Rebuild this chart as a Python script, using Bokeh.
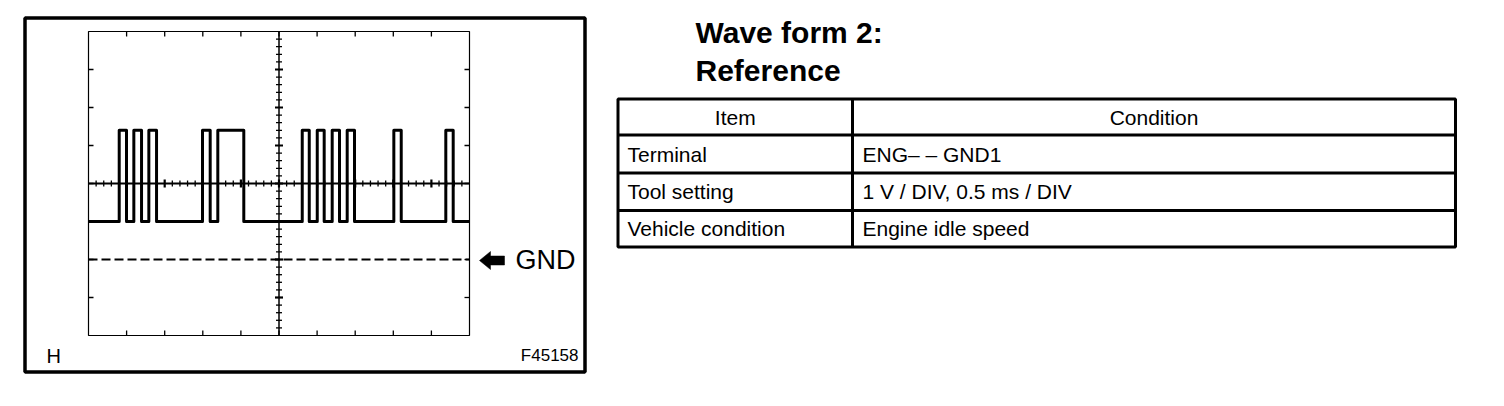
from bokeh.plotting import figure
from bokeh.layouts import row
from bokeh.models import Range1d
from bokeh.core.properties import value
from bokeh.embed import file_html
from bokeh.resources import INLINE

# ---------------- data ----------------
pulse_rise_ms = [0.403, 0.595, 0.792, 1.496, 1.697, 2.805, 3.002, 3.198, 3.395, 4.007, 4.689]
pulse_fall_ms = [0.499, 0.696, 0.893, 1.597, 2.038, 2.897, 3.093, 3.294, 3.491, 4.104, 4.786]
low_level_v = 1.0
high_level_v = 3.4
gnd_v = 0.0
screen_t = [0.0, 5.0]      # 10 div x 0.5 ms/div
screen_v = [-2.0, 6.0]     # 8 div x 1 V/div
ms_per_div = 0.5
v_per_div = 1.0

title_lines = ["Wave form 2:", "Reference"]
table_header = ["Item", "Condition"]
table_items = ["Terminal", "Tool setting", "Vehicle condition"]
table_conditions = ["ENG\u2013 \u2013 GND1", "1 V / DIV, 0.5 ms / DIV", "Engine idle speed"]
gnd_label = "GND"
corner_labels = ["H", "F45158"]

FONT = "Liberation Sans"

# ---------------- layout (page pixels) ----------------
M = 0
LW, H = 600, 400
RW = 900
GL, GR, GT, GB = 88.0, 469.0, 31.0, 335.0
ppm = (GR - GL) / (screen_t[1] - screen_t[0])   # px per ms
ppv = (GB - GT) / (screen_v[1] - screen_v[0])   # px per volt


def X(px):
    return screen_t[0] + (px - GL) / ppm


def Y(py):
    return screen_v[0] + (GB - py) / ppv


p = figure(width=LW, height=H, output_backend="svg", toolbar_location=None,
           x_range=Range1d(X(M), X(M + LW)), y_range=Range1d(Y(M + H), Y(M)),
           x_axis_location=None, y_axis_location=None, min_border=0,
           outline_line_color=None, background_fill_color="white")
p.grid.grid_line_color = None

# outer frame
p.quad(left=[X(24.5)], right=[X(584.5)], bottom=[Y(371.5)], top=[Y(17.5)],
       fill_color=None, line_color="black", line_width=3.5)

# screen grid box
p.quad(left=[screen_t[0]], right=[screen_t[1]], bottom=[screen_v[0]], top=[screen_v[1]],
       fill_color=None, line_color="black", line_width=1.2)

# border ticks
x0s, y0s, x1s, y1s = [], [], [], []
tl = 5.0
n_xdiv = int(round((screen_t[1] - screen_t[0]) / ms_per_div))
n_ydiv = int(round((screen_v[1] - screen_v[0]) / v_per_div))
for i in range(1, n_xdiv):
    t = screen_t[0] + i * ms_per_div
    x0s += [t, t]; x1s += [t, t]
    y0s += [screen_v[0], screen_v[1]]
    y1s += [screen_v[0] + tl / ppv, screen_v[1] - tl / ppv]
for j in range(1, n_ydiv):
    v = screen_v[0] + j * v_per_div
    y0s += [v, v]; y1s += [v, v]
    x0s += [screen_t[0], screen_t[1]]
    x1s += [screen_t[0] + tl / ppm, screen_t[1] - tl / ppm]
p.segment(x0=x0s, y0=y0s, x1=x1s, y1=y1s, line_color="black", line_width=1.3)

# centre cross
tc = (screen_t[0] + screen_t[1]) / 2
vc = (screen_v[0] + screen_v[1]) / 2
p.segment(x0=[tc, screen_t[0]], y0=[screen_v[0], vc], x1=[tc, screen_t[1]], y1=[screen_v[1], vc],
          line_color="black", line_width=[1.5, 2.2])

# minor ticks on centre cross
mx0, my0, mx1, my1 = [], [], [], []
Mx0, My0, Mx1, My1 = [], [], [], []
for i in range(1, n_xdiv * 5):
    t = screen_t[0] + i * ms_per_div / 5
    if i % 5 == 0:
        Mx0.append(t); Mx1.append(t); My0.append(vc - 4 / ppv); My1.append(vc + 4 / ppv)
    else:
        mx0.append(t); mx1.append(t); my0.append(vc - 3 / ppv); my1.append(vc + 3 / ppv)
for j in range(1, n_ydiv * 5):
    v = screen_v[0] + j * v_per_div / 5
    if j % 5 == 0:
        My0.append(v); My1.append(v); Mx0.append(tc - 4 / ppm); Mx1.append(tc + 4 / ppm)
    else:
        my0.append(v); my1.append(v); mx0.append(tc - 3 / ppm); mx1.append(tc + 3 / ppm)
p.segment(x0=mx0, y0=my0, x1=mx1, y1=my1, line_color="black", line_width=1.3)
p.segment(x0=Mx0, y0=My0, x1=Mx1, y1=My1, line_color="black", line_width=2.2)

# GND dashed line
p.line(x=screen_t, y=[gnd_v, gnd_v], line_color="black", line_width=2, line_dash="9 4")

# waveform
wx = [screen_t[0]]
wy = [low_level_v]
for r, f in zip(pulse_rise_ms, pulse_fall_ms):
    wx += [r, r, f, f]
    wy += [low_level_v, high_level_v, high_level_v, low_level_v]
wx.append(screen_t[1])
wy.append(low_level_v)
p.line(x=wx, y=wy, line_color="black", line_width=3, line_join="round")

# GND arrow
ax = [479, 490, 490, 504, 504, 490, 490]
ay = [260, 251, 255.5, 255.5, 264.5, 264.5, 269]
p.patch(x=[X(a) for a in ax], y=[Y(b) for b in ay], fill_color="black", line_color="black", line_width=0.5)
p.text(x=[X(515)], y=[Y(259)], text=[gnd_label], text_font=value(FONT), text_font_size="27px",
       text_baseline="middle", text_align="left", text_color="black")

# corner labels
p.text(x=[X(46)], y=[Y(355)], text=[corner_labels[0]], text_font=value(FONT), text_font_size="20px",
       text_baseline="middle", text_align="left", text_color="black")
p.text(x=[X(578)], y=[Y(355)], text=[corner_labels[1]], text_font=value(FONT), text_font_size="17px",
       text_baseline="middle", text_align="right", text_color="black")

# ---------------- table figure ----------------
q = figure(width=RW, height=H, output_backend="svg", toolbar_location=None,
           x_range=Range1d(M + LW, M + LW + RW), y_range=Range1d(M + H, M),
           x_axis_location=None, y_axis_location=None, min_border=0,
           outline_line_color=None, background_fill_color="white")
q.grid.grid_line_color = None

TL, TR, TCOL = 617.5, 1455.0, 852.0
row_lines = [98.5, 134.5, 172.5, 210.0, 246.5]

q.text(x=[695, 695], y=[32, 70], text=title_lines, text_font=value(FONT), text_font_size="30px",
       text_font_style="bold", text_baseline="middle", text_align="left", text_color="black")

q.quad(left=[TL], right=[TR], top=[row_lines[0]], bottom=[row_lines[-1]],
       fill_color=None, line_color="black", line_width=3)
q.segment(x0=[TL] * 3 + [TCOL], y0=row_lines[1:4] + [row_lines[0]],
          x1=[TR] * 3 + [TCOL], y1=row_lines[1:4] + [row_lines[-1]],
          line_color="black", line_width=3)

centers = [(row_lines[i] + row_lines[i + 1]) / 2 for i in range(4)]
q.text(x=[(TL + TCOL) / 2, (TCOL + TR) / 2], y=[centers[0], centers[0]], text=table_header,
       text_font=value(FONT), text_font_size="21px", text_baseline="middle", text_align="center",
       text_color="black")
q.text(x=[627] * 3, y=centers[1:], text=table_items, text_font=value(FONT), text_font_size="21px",
       text_baseline="middle", text_align="left", text_color="black")
q.text(x=[862] * 3, y=centers[1:], text=table_conditions, text_font=value(FONT), text_font_size="21px",
       text_baseline="middle", text_align="left", text_color="black")

layout = row(p, q, spacing=0)
open("out.html", "w").write(file_html(layout, INLINE))
